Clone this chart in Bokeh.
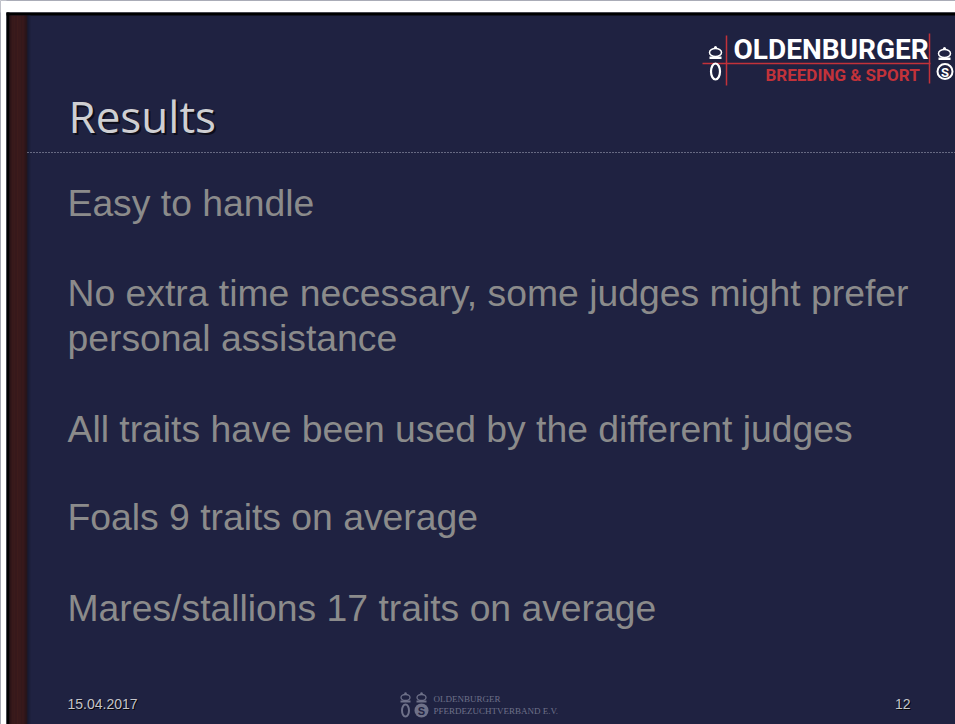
from bokeh.plotting import figure
from bokeh.models import Range1d
from bokeh.core.properties import value
from bokeh.embed import file_html
from bokeh.resources import INLINE

# ---- slide content ----
title_text = ["Results"]
bullets = [
    "Easy to handle",
    "No extra time necessary, some judges might prefer",
    "personal assistance",
    "All traits have been used by the different judges",
    "Foals 9 traits on average",
    "Mares/stallions 17 traits on average",
]
# vertical centre of each line's capitals
bullet_y = [202, 292, 337, 428, 516, 607]
footer_date = ["15.04.2017"]
page_number = ["12"]
logo_top = ["OLDENBURGER"]
logo_sub = ["BREEDING & SPORT"]
footer_logo_lines = ["OLDENBURGER", "PFERDEZUCHTVERBAND E.V."]

NAVY = "#1f2241"
BODY = "#8b8b8b"
RED = "#c2323a"

p = figure(width=955, height=724, x_range=Range1d(0, 955), y_range=Range1d(724, 0),
           output_backend="svg", toolbar_location=None,
           x_axis_location=None, y_axis_location=None,
           min_border=0, min_border_left=0, min_border_right=0,
           min_border_top=0, min_border_bottom=0)
p.grid.visible = False
p.outline_line_color = None
p.background_fill_color = NAVY
p.border_fill_color = "white"

# frame: white surround, black border, wood strip
p.quad(left=[0, 0], right=[955, 6], top=[0, 0], bottom=[12, 724], fill_color="white", line_color=None)
p.quad(left=[6, 6], right=[955, 9], top=[12, 12], bottom=[15, 724], fill_color="black", line_color=None)
wood_cols = ["#2b0d09", "#341109", "#3d150e", "#44180f", "#3f1610", "#47190f",
             "#3c1410", "#43170e", "#4a1b11", "#3e150f", "#451810", "#40160f",
             "#3a140e", "#44170f", "#3d1510", "#36120d", "#2f100c", "#271310"]
p.quad(left=[9 + i for i in range(18)], right=[10 + i for i in range(18)],
       top=[15] * 18, bottom=[724] * 18, fill_color=wood_cols, line_color=None)
# soft shadow at the strip edge
p.quad(left=[27, 28, 29], right=[28, 29, 30], top=[15] * 3, bottom=[724] * 3,
       fill_color=["#15172c", "#191b33", "#1c1f3b"], line_color=None)

# dotted separator
p.segment(x0=[27], y0=[152], x1=[955], y1=[152], line_color="#aeb0c4",
          line_width=1.2, line_dash="1 2")

# title with shadow
p.text(x=[70], y=[117], text=title_text, text_font=value("Open Sans"), text_font_size="44px",
       text_color="#080810", text_alpha=0.8, text_baseline="middle")
p.text(x=[68], y=[115], text=title_text, text_font=value("Open Sans"), text_font_size="44px",
       text_color="#cfcfd2", text_baseline="middle")

# bullets
p.text(x=[67] * len(bullets), y=bullet_y, text=bullets, text_font=value("Liberation Sans"),
       text_font_size="37.3px", text_color=BODY, text_baseline="middle")

# footer
p.text(x=[68], y=[704], text=footer_date, text_font=value("Liberation Sans"),
       text_font_size="14px", text_color="#050508", text_baseline="middle")
p.text(x=[67], y=[703], text=footer_date, text_font=value("Liberation Sans"),
       text_font_size="14px", text_color="#c4c4c8", text_baseline="middle")
p.text(x=[911], y=[704], text=page_number, text_font=value("Liberation Sans"),
       text_font_size="14px", text_color="#050508", text_baseline="middle", text_align="right")
p.text(x=[910], y=[703], text=page_number, text_font=value("Liberation Sans"),
       text_font_size="14px", text_color="#c4c4c8", text_baseline="middle", text_align="right")

# footer logo (gray)
G = "#6e7189"
p.ellipse(x=[405, 421], y=[697, 697], width=[9, 9], height=[6, 6], fill_color=None,
          line_color=G, line_width=1.3)
p.quad(left=[400, 416], right=[410, 426], top=[700, 700], bottom=[702, 702],
       fill_color=G, line_color=None)
p.scatter(x=[405, 421], y=[693, 693], size=2.5, fill_color=G, line_color=None)
p.ellipse(x=[405], y=[710], width=[7], height=[12], fill_color=None, line_color=G, line_width=2)
p.scatter(x=[421], y=[710], size=14, fill_color=G, line_color=None)
p.text(x=[421], y=[710], text=["S"], text_font=value("Liberation Sans"), text_font_size="11px",
       text_font_style="bold", text_color=NAVY, text_align="center", text_baseline="middle")
p.text(x=[433, 433], y=[698, 710], text=footer_logo_lines, text_font=value("Liberation Serif"),
       text_font_size="9px", text_color=G, text_baseline="middle")

# top-right logo
p.segment(x0=[702, 726, 929], y0=[63, 35, 33], x1=[930, 726, 929], y1=[63, 85, 83],
          line_color=RED, line_width=1.5)
p.text(x=[733], y=[49], text=logo_top, text_font=value("Roboto"), text_font_size="28px",
       text_font_style="bold", text_color="white", text_baseline="middle")
p.text(x=[765], y=[74], text=logo_sub, text_font=value("Roboto"), text_font_size="17px",
       text_font_style="bold", text_color=RED, text_baseline="middle")
# crowns
p.ellipse(x=[715, 944], y=[52, 53], width=[12, 12], height=[8, 8], fill_color=None,
          line_color="white", line_width=1.5)
p.quad(left=[709, 938], right=[721, 950], top=[56, 57], bottom=[58.5, 59.5],
       fill_color="white", line_color=None)
p.scatter(x=[715, 944], y=[47, 48], size=3, fill_color="white", line_color=None)
# O and circled S
p.ellipse(x=[715], y=[71], width=[9], height=[16], fill_color=None, line_color="white", line_width=2.2)
p.circle(x=[944.5], y=[71], radius=7.5, fill_color=None, line_color="white", line_width=2)
p.text(x=[944.5], y=[71.5], text=["S"], text_font=value("Roboto"), text_font_size="13px",
       text_font_style="bold", text_color="white", text_align="center", text_baseline="middle")

open("out.html", "w").write(file_html(p, INLINE))
